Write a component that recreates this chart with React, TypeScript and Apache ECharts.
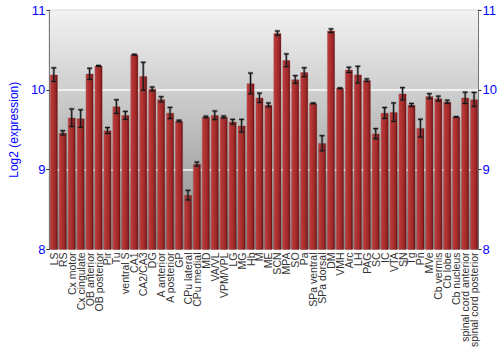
import React, { useEffect, useRef } from "react";
import * as echarts from "echarts";

const categories = [
  "LS", "RS", "Cx motor", "Cx cingulate", "OB anterior", "OB posterior", "Pir", "Tu",
  "ventral S", "CA1", "CA2/CA3", "DG", "A anterior", "A posterior", "GP", "CPu lateral",
  "CPu medial", "MD", "VA/VL", "VPM/VPL", "LG", "MG", "Hb", "M", "ME", "SCN", "MPA", "SO",
  "Pa", "SPa ventral", "SPa dorsal", "DM", "VMH", "Arc", "LH", "PAG", "SC", "IC", "VTA",
  "SN", "Tg", "Pn", "MVe", "Cb vermis", "Cb lobe", "Cb nucleus", "spinal cord anterior",
  "spinal cord posterior",
];

const values = [
  10.19, 9.46, 9.65, 9.64, 10.2, 10.3, 9.49, 9.79, 9.68, 10.44, 10.17, 10.01, 9.88, 9.71,
  9.61, 8.68, 9.07, 9.66, 9.68, 9.66, 9.6, 9.55, 10.08, 9.9, 9.81, 10.71, 10.37, 10.13,
  10.22, 9.83, 9.33, 10.74, 10.02, 10.25, 10.19, 10.12, 9.45, 9.71, 9.72, 9.95, 9.81, 9.52,
  9.92, 9.89, 9.85, 9.66, 9.9, 9.88,
];

const errors = [
  0.085, 0.027, 0.11, 0.11, 0.07, 0.005, 0.037, 0.085, 0.05, 0.005, 0.175, 0.025, 0.033,
  0.07, 0.01, 0.06, 0.025, 0.01, 0.054, 0.012, 0.03, 0.08, 0.13, 0.058, 0.025, 0.027, 0.08,
  0.048, 0.056, 0.005, 0.095, 0.023, 0.004, 0.033, 0.105, 0.017, 0.064, 0.068, 0.116, 0.077,
  0.019, 0.112, 0.031, 0.031, 0.02, 0.004, 0.07, 0.087,
];

const yTicks = { min: 8, max: 11, interval: 1 };

export default function App() {
  const ref = useRef<HTMLDivElement>(null);
  useEffect(() => {
    if (!ref.current) return;
    const chart = echarts.init(ref.current, undefined, { renderer: "svg" });
    const font = "'Liberation Sans', Arial, sans-serif";
    const errData = values.map((v, i) => [i, v - errors[i], v + errors[i]]);
    chart.setOption({
      animation: false,
      grid: {
        left: 34,
        right: 21,
        top: 10,
        bottom: 100,
        show: true,
        borderColor: "#777",
        borderWidth: 1,
        backgroundColor: new echarts.graphic.LinearGradient(0, 0, 0, 1, [
          { offset: 0, color: "#f2f2f2" },
          { offset: 1, color: "#888888" },
        ]),
      },
      xAxis: {
        type: "category",
        data: categories,
        axisLine: { show: false },
        axisTick: { show: false },
        axisLabel: {
          rotate: 90,
          interval: 0,
          fontSize: 10.5,
          color: "#333",
          fontFamily: font,
          margin: 3,
        },
      },
      yAxis: [
        {
          type: "value",
          min: yTicks.min,
          max: yTicks.max,
          interval: yTicks.interval,
          position: "left",
          name: "Log2 (expression)",
          nameLocation: "middle",
          nameGap: 18,
          nameTextStyle: { color: "#0000ff", fontSize: 12, fontFamily: font },
          axisLine: { show: true, lineStyle: { color: "#777" } },
          axisTick: { show: true, length: 3, lineStyle: { color: "#333" } },
          axisLabel: { color: "#0000ff", fontSize: 13, fontFamily: font, margin: 4 },
          splitLine: { show: true, lineStyle: { color: "#ffffff", width: 1.5, opacity: 0.9 } },
        },
        {
          type: "value",
          min: yTicks.min,
          max: yTicks.max,
          interval: yTicks.interval,
          position: "right",
          axisLine: { show: true, lineStyle: { color: "#777" } },
          axisTick: { show: true, length: 3, lineStyle: { color: "#333" } },
          axisLabel: { color: "#0000ff", fontSize: 13, fontFamily: font, margin: 4 },
          splitLine: { show: false },
        },
      ],
      series: [
        {
          type: "bar",
          data: values,
          barWidth: "86%",
          itemStyle: {
            color: new echarts.graphic.LinearGradient(0, 0, 1, 0, [
              { offset: 0, color: "#cc5555" },
              { offset: 0.15, color: "#b83838" },
              { offset: 0.7, color: "#a02828" },
              { offset: 1, color: "#6a1212" },
            ]),
            borderColor: "rgba(120,20,20,0.5)",
            borderWidth: 0.5,
          },
        },
        {
          type: "custom",
          data: errData,
          z: 5,
          renderItem: (params: any, api: any) => {
            const x = api.value(0);
            const lo = api.coord([x, api.value(1)]);
            const hi = api.coord([x, api.value(2)]);
            const cx = lo[0];
            const hw = 2.5;
            const mk = (stroke: string, w: number) => [
              { type: "line", shape: { x1: cx, y1: lo[1], x2: cx, y2: hi[1] }, style: { stroke, lineWidth: w } },
              { type: "line", shape: { x1: cx - hw, y1: lo[1], x2: cx + hw, y2: lo[1] }, style: { stroke, lineWidth: w } },
              { type: "line", shape: { x1: cx - hw, y1: hi[1], x2: cx + hw, y2: hi[1] }, style: { stroke, lineWidth: w } },
            ];
            return {
              type: "group",
              children: [...mk("rgba(60,60,60,0.45)", 2.6), ...mk("#111", 1)],
            };
          },
        },
      ],
    });
    return () => chart.dispose();
  }, []);
  return (
    <div
      ref={ref}
      style={{ position: "absolute", left: 0, top: 0, width: 500, height: 350 }}
    />
  );
}
